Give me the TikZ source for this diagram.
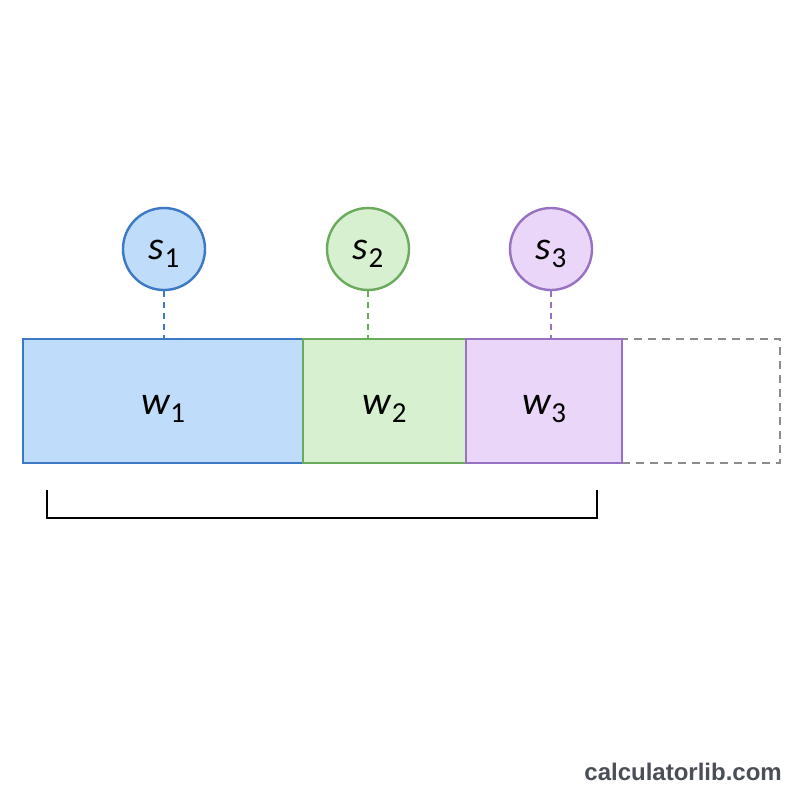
\documentclass[tikz,border=0pt]{standalone}
\usepackage{fontspec}
\newfontfamily\labfont{Carlito}
\newfontfamily\wmfont{Liberation Sans}
\definecolor{bluefill}{HTML}{BFDDFA}
\definecolor{blueline}{HTML}{3C78C3}
\definecolor{greenfill}{HTML}{D6F0D0}
\definecolor{greenline}{HTML}{6AAA5C}
\definecolor{purplefill}{HTML}{E9D6F8}
\definecolor{purpleline}{HTML}{9872C2}
\definecolor{grayline}{HTML}{8C8C8C}
\definecolor{wmgray}{HTML}{4A4F57}
\newcommand{\lab}[2]{{\labfont\fontsize{40}{40}\selectfont\itshape #1}\kern0.5pt{\labfont\fontsize{29}{29}\selectfont\raisebox{-8pt}{#2}}}
\begin{document}
\begin{tikzpicture}[x=1pt,y=-1pt,
  seqcirc/.style={circle, draw=#1line, fill=#1fill, line width=2.4pt, minimum size=82pt, inner sep=0pt},
  seqbox/.style={rectangle, draw=#1line, fill=#1fill, line width=2.4pt, anchor=north west, minimum height=124pt, inner sep=0pt},
  link/.style={draw=#1line, line width=2.2pt, dash pattern=on 6pt off 5pt},
  bracketline/.style={draw=black, line width=2.4pt}]
\fill[white] (0,0) rectangle (800,800);
\useasboundingbox (0,0) rectangle (800,800);
% dashed empty slot
\node[rectangle, draw=grayline, line width=2.4pt, dash pattern=on 8pt off 6pt, anchor=north west, minimum width=158pt, minimum height=124pt, inner sep=0pt] (b4) at (621,338) {};
% boxes
\node[seqbox=blue, minimum width=280pt] (b1) at (22,338) {};
\node[seqbox=green, minimum width=163pt] (b2) at (302,338) {};
\node[seqbox=purple, minimum width=156pt] (b3) at (465,338) {};
\node[yshift=-8pt] (t1) at (b1.center) {\lab{w}{1}};
\node[yshift=-8pt] (t2) at (b2.center) {\lab{w}{2}};
\node[yshift=-8pt] (t3) at (b3.center) {\lab{w}{3}};
% circles
\node[seqcirc=blue] (c1) at (164,249) {};
\node[seqcirc=green] (c2) at (368,249) {};
\node[seqcirc=purple] (c3) at (551,249) {};
\node[yshift=-5pt] (u1) at (c1.center) {\lab{s}{1}};
\node[yshift=-5pt] (u2) at (c2.center) {\lab{s}{2}};
\node[yshift=-5pt] (u3) at (c3.center) {\lab{s}{3}};
% connectors
\draw[link=blue] (c1.south) -- (c1.south |- b1.north);
\draw[link=green] (c2.south) -- (c2.south |- b2.north);
\draw[link=purple] (c3.south) -- (c3.south |- b3.north);
% bracket
\coordinate (brTL) at (47,490);
\coordinate (brBL) at (47,518);
\coordinate (brBR) at (597,518);
\coordinate (brTR) at (597,490);
\draw[bracketline] (brTL) -- (brBL) -- (brBR) -- (brTR);
% watermark
\node[anchor=east, text=wmgray, inner sep=0pt] (wm) at (782,772) {\wmfont\bfseries\fontsize{24}{24}\selectfont calculatorlib.com};
\end{tikzpicture}
\end{document}
